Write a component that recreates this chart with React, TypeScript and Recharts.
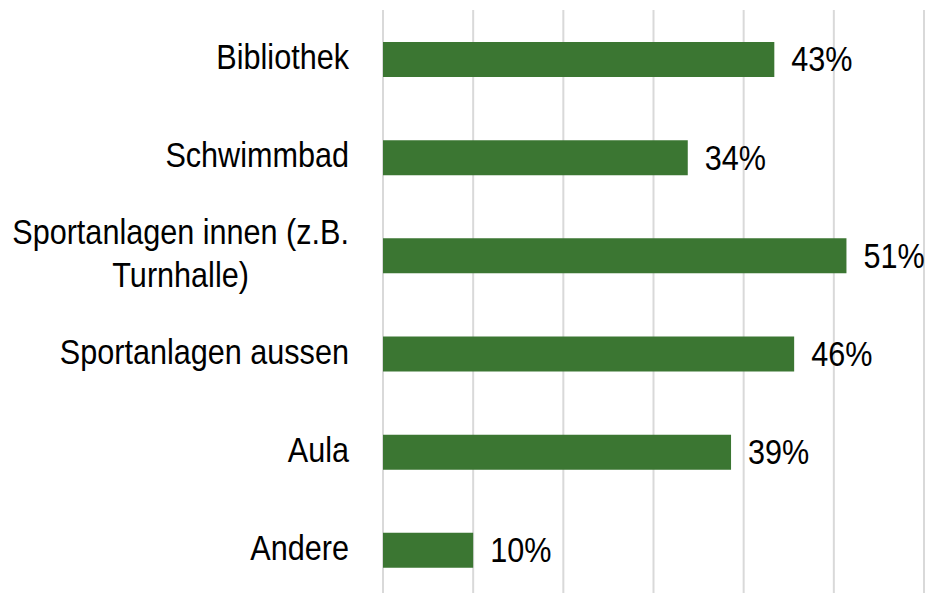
import { BarChart, Bar, XAxis, YAxis, CartesianGrid, LabelList } from 'recharts'

const categories = [
  'Bibliothek',
  'Schwimmbad',
  'Sportanlagen innen (z.B. Turnhalle)',
  'Sportanlagen aussen',
  'Aula',
  'Andere',
]
const shares = [43.4, 33.8, 51.4, 45.6, 38.6, 10.0]
const xTicks = [0, 10, 20, 30, 40, 50, 60]

const data = categories.map((name, i) => ({ name, value: shares[i] }))

const FONT = 'Liberation Sans, Arial, sans-serif'
const FONT_SIZE = 36
const NARROW = 0.85 // Arial Narrow look
const MAX_LABEL_W = 345

let ctx: CanvasRenderingContext2D | null = null
function measure(text: string) {
  if (!ctx) ctx = document.createElement('canvas').getContext('2d')
  if (!ctx) return text.length * FONT_SIZE * 0.5
  ctx.font = `${FONT_SIZE}px ${FONT}`
  return ctx.measureText(text).width
}

// wrap label words so the narrowed text fits left of the axis
function wrap(text: string) {
  const words = text.split(' ')
  const lines: string[] = []
  let cur = ''
  words.forEach((w) => {
    const next = cur ? `${cur} ${w}` : w
    if (cur && measure(next) * NARROW > MAX_LABEL_W) {
      lines.push(cur)
      cur = w
    } else {
      cur = next
    }
  })
  if (cur) lines.push(cur)
  return lines
}

function CategoryTick(props: any) {
  const { x, y, payload } = props
  const lines = wrap(String(payload.value))
  const blockW = Math.max(...lines.map(measure))
  const lh = 43.4
  const right = x - 34
  return (
    <g transform={`translate(${right},${y}) scale(${NARROW},1)`}>
      {lines.map((l, i) => (
        <text
          key={i}
          x={-blockW / 2}
          y={-3 + (i - (lines.length - 1) / 2) * lh + 12.9}
          textAnchor="middle"
          fontFamily={FONT}
          fontSize={FONT_SIZE}
          fill="#000"
        >
          {l}
        </text>
      ))}
    </g>
  )
}

function ValueLabel(props: any) {
  const { x, y, width, height, value } = props
  const lx = Number(x) + Number(width) + 17
  const ly = Number(y) + Number(height) / 2 - 1 + 12.9
  return (
    <g transform={`translate(${lx},${ly}) scale(${NARROW},1)`}>
      <text x={0} y={0} textAnchor="start" fontFamily={FONT} fontSize={FONT_SIZE} fill="#000">
        {`${Math.round(Number(value))}%`}
      </text>
    </g>
  )
}

export default function App() {
  return (
    <div style={{ position: 'absolute', left: 0, top: 0, width: 925, height: 593, overflow: 'hidden', background: '#fff' }}>
      <BarChart
        width={925}
        height={599}
        data={data}
        layout="vertical"
        margin={{ top: 10, right: 1, left: 0, bottom: 0 }}
      >
        <CartesianGrid horizontal={false} stroke="#D9D9D9" strokeWidth={2} />
        <XAxis type="number" domain={[0, 60]} ticks={xTicks} hide />
        <YAxis
          type="category"
          dataKey="name"
          width={383}
          axisLine={false}
          tickLine={false}
          tickSize={0}
          tickMargin={0}
          interval={0}
          tick={<CategoryTick />}
        />
        <Bar dataKey="value" fill="#3B7632" barSize={35} isAnimationActive={false}>
          <LabelList dataKey="value" content={<ValueLabel />} />
        </Bar>
      </BarChart>
    </div>
  )
}
